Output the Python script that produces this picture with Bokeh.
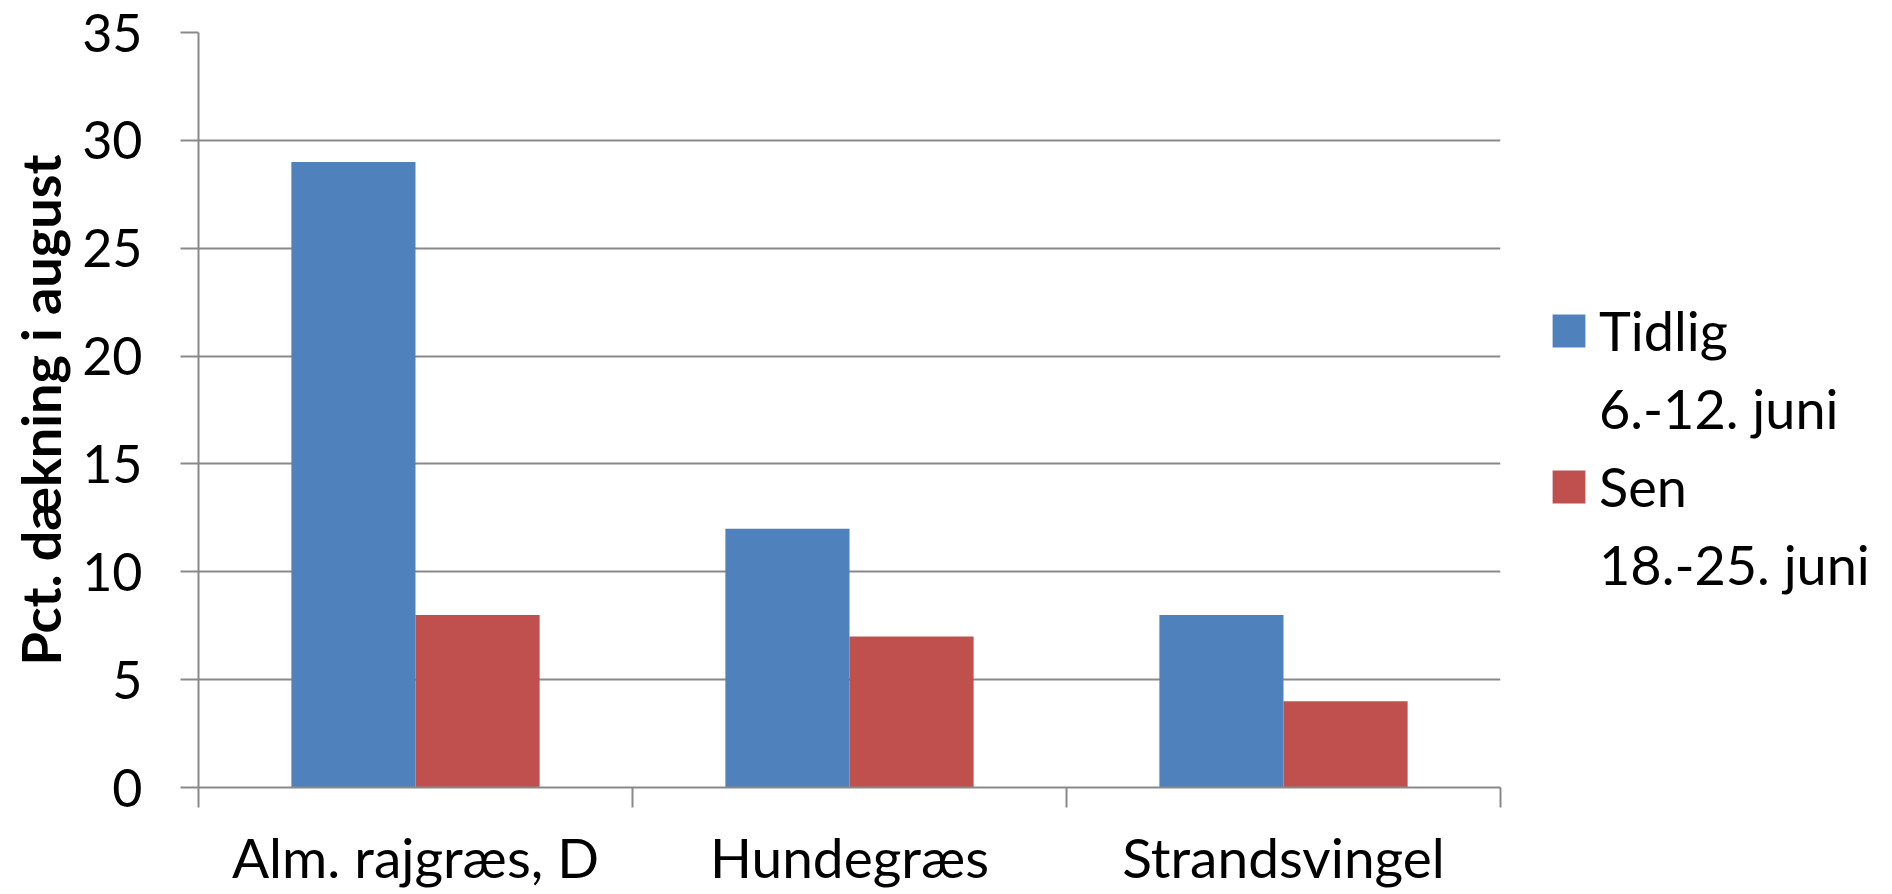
from bokeh.plotting import figure
from bokeh.models import (Range1d, FixedTicker, Legend, LegendItem, ColumnDataSource)
from bokeh.transform import dodge
from bokeh.embed import file_html
from bokeh.resources import INLINE

# ---- data ----
categories = ["Alm. rajgræs, D", "Hundegræs", "Strandsvingel"]
tidlig = [29, 12, 8]
sen = [8, 7, 4]
series_names = ["Tidlig", "Sen"]
series_dates = ["6.-12. juni", "18.-25. juni"]
y_ticks = [0, 5, 10, 15, 20, 25, 30, 35]
y_title = "Pct. dækning i august"

BLUE = "#4F81BD"
RED = "#C0504D"
GRAY = "#898989"
FONT = "Lato"

n = len(categories)
centers = [i + 0.5 for i in range(n)]
bounds = list(range(n + 1))
src = ColumnDataSource(dict(cat=categories, xc=centers, tidlig=tidlig, sen=sen))

p = figure(x_range=Range1d(0, n), y_range=Range1d(0, 35),
           frame_width=1302, frame_height=755,
           output_backend="svg", toolbar_location=None,
           min_border_left=198, min_border_top=32,
           min_border_right=0, min_border_bottom=107)
p.outline_line_color = None
p.xgrid.visible = False

r1 = p.vbar(x=dodge("xc", -0.143), top="tidlig", width=0.286,
            source=src, fill_color=BLUE, line_color=None)
r2 = p.vbar(x=dodge("xc", 0.143), top="sen", width=0.286,
            source=src, fill_color=RED, line_color=None)

# y axis
ya = p.yaxis[0]
ya.ticker = FixedTicker(ticks=y_ticks)
ya.axis_line_color = GRAY
ya.axis_line_width = 2
ya.major_tick_line_color = GRAY
ya.major_tick_line_width = 2
ya.major_tick_out = 18
ya.major_tick_in = 0
ya.minor_tick_line_color = None
ya.major_label_text_font = FONT
ya.major_label_text_font_size = "52px"
ya.major_label_text_color = "black"
ya.major_label_standoff = 38
ya.axis_label = y_title
ya.axis_label_text_font = FONT
ya.axis_label_text_font_style = "bold"
ya.axis_label_text_font_size = "54px"
ya.axis_label_text_color = "black"
ya.axis_label_standoff = 6

p.ygrid.grid_line_color = GRAY
p.ygrid.grid_line_width = 2
p.ygrid.ticker = FixedTicker(ticks=y_ticks)

# x axis: names at category centres, tick marks at category boundaries
xa = p.xaxis[0]
xa.ticker = FixedTicker(ticks=centers, minor_ticks=bounds)
xa.major_label_overrides = {c: name for c, name in zip(centers, categories)}
xa.axis_line_color = GRAY
xa.axis_line_width = 2
xa.major_tick_line_color = None
xa.major_tick_out = 20
xa.major_tick_in = 0
xa.minor_tick_line_color = GRAY
xa.minor_tick_line_width = 2
xa.minor_tick_out = 20
xa.minor_tick_in = 0
xa.major_label_text_font = FONT
xa.major_label_text_font_size = "55px"
xa.major_label_text_color = "black"
xa.major_label_standoff = 16

items = []
for name, dates, r in zip(series_names, series_dates, [r1, r2]):
    items.append(LegendItem(label=name, renderers=[r]))
    items.append(LegendItem(label=dates, renderers=[]))

legend = Legend(items=items, location=(48, 190), orientation="vertical",
                glyph_width=41, glyph_height=41, label_height=66,
                label_text_font=FONT, label_text_font_size="54px",
                label_text_color="black",
                label_standoff=10, spacing=12, padding=0, margin=0,
                border_line_color=None, background_fill_alpha=0)
p.add_layout(legend, "right")

open("out.html", "w").write(file_html(p, INLINE))
